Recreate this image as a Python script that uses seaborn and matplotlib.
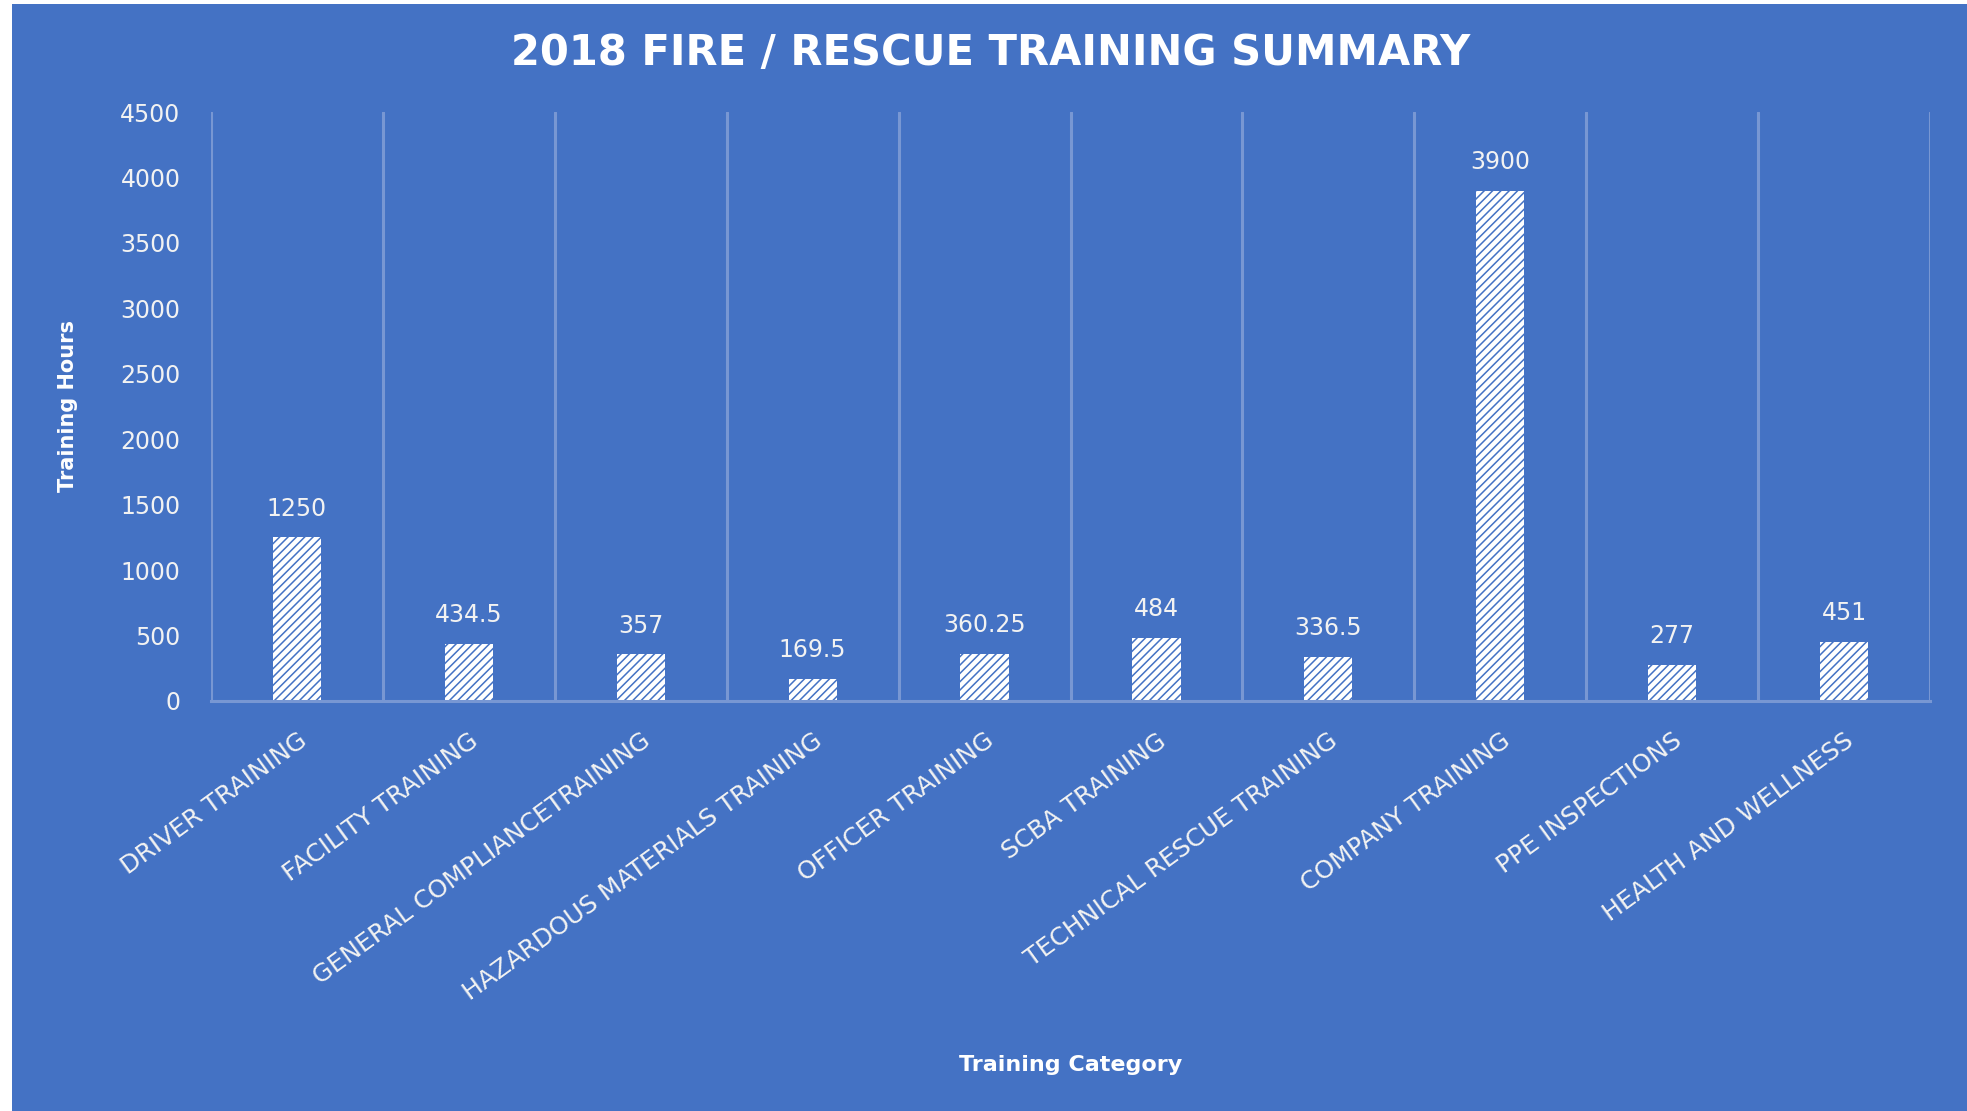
import numpy as np
import matplotlib
matplotlib.use("Agg")
import matplotlib.pyplot as plt
import seaborn as sns
from matplotlib.patches import Rectangle

# data
categories = ["DRIVER TRAINING", "FACILITY TRAINING", "GENERAL COMPLIANCETRAINING",
              "HAZARDOUS MATERIALS TRAINING", "OFFICER TRAINING", "SCBA TRAINING",
              "TECHNICAL RESCUE TRAINING", "COMPANY TRAINING", "PPE INSPECTIONS",
              "HEALTH AND WELLNESS"]
hours = [1250, 434.5, 357, 169.5, 360.25, 484, 336.5, 3900, 277, 451]
y_ticks = [0, 500, 1000, 1500, 2000, 2500, 3000, 3500, 4000, 4500]

BLUE = "#4472C4"
GRID = "#7897D3"
TXT = "#F2F2F2"

sns.set_style("white")
plt.rcParams["font.family"] = ["DejaVu Sans"]
plt.rcParams["hatch.linewidth"] = 1.1

W, H = 1967, 1111
fig = plt.figure(figsize=(W / 100, H / 100), dpi=100, facecolor="white")
# blue chart area (thin white border left/top like the screenshot)
fig.add_artist(Rectangle((11.5 / W, 0), 1, 1 - 4 / H, transform=fig.transFigure,
                         facecolor=BLUE, edgecolor="none", zorder=-10))

ax = fig.add_axes([211 / W, 1 - 701 / H, (1930 - 211) / W, (701 - 112) / H])
ax.set_facecolor("none")

sns.barplot(x=categories, y=hours, color="white", saturation=1, width=0.28,
            hatch="////", edgecolor=BLUE, linewidth=0, ax=ax)

ax.set_ylim(0, 4500)
ax.set_xlim(-0.5, len(categories) - 0.5)
ax.set_yticks(y_ticks)
ax.set_yticklabels([str(t) for t in y_ticks])

# vertical gridlines between categories
ax.set_xticks(np.arange(-0.5, len(categories), 1), minor=True)
ax.grid(which="minor", axis="x", color=GRID, linewidth=2.2)
ax.grid(which="major", visible=False)
ax.set_axisbelow(True)

for s in ["left", "top", "right"]:
    ax.spines[s].set_visible(False)
ax.spines["bottom"].set_color(GRID)
ax.spines["bottom"].set_linewidth(2.2)

ax.tick_params(axis="both", which="both", length=0)
ax.tick_params(axis="y", labelsize=17, labelcolor=TXT, pad=22)
ax.set_xticks(range(len(categories)))
ax.set_xticklabels(categories, rotation=36, ha="right", va="top",
                   rotation_mode="anchor", fontsize=18, color=TXT)
ax.tick_params(axis="x", pad=20)

ax.bar_label(ax.containers[0], labels=[f"{v:g}" for v in hours],
             padding=12, fontsize=17, color=TXT)

ax.set_ylabel("Training Hours", fontsize=15, fontweight="bold", color="white")
ax.yaxis.set_label_coords((78 - 211) / (1930 - 211), 0.5)
ax.set_xlabel("Training Category", fontsize=16, fontweight="bold", color="white")
ax.xaxis.set_label_coords(0.5, (701 - 1055) / (701 - 112))

fig.text(991 / W, 1 - 53 / H, "2018 FIRE / RESCUE TRAINING SUMMARY",
         ha="center", va="center", fontsize=30, fontweight="bold", color="white")

fig.savefig("out.png", dpi=100)
